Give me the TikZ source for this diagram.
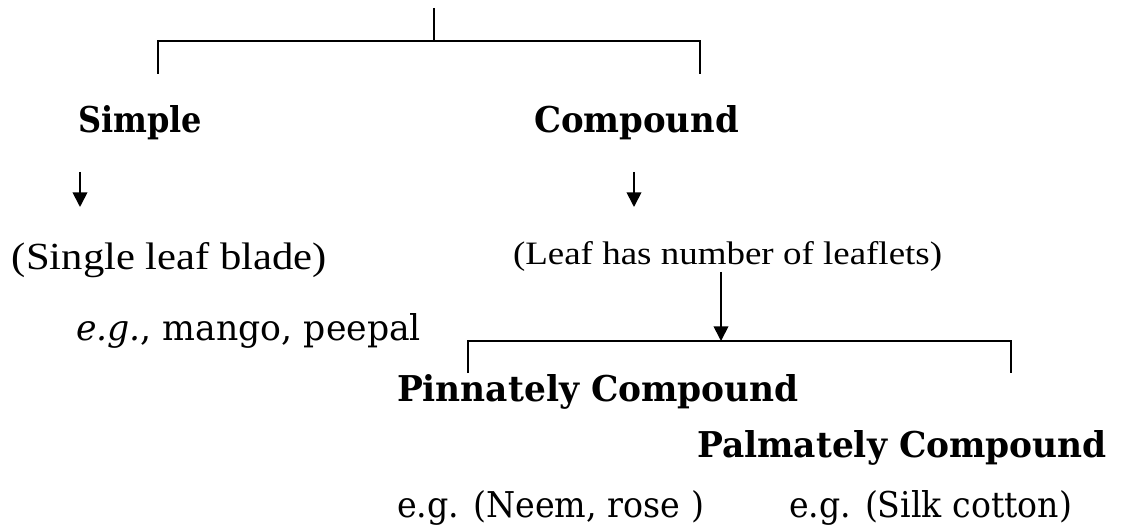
\documentclass[tikz,border=0pt]{standalone}
\usepackage{fontspec}
\usepackage{graphicx}
\setmainfont{DejaVu Serif}
\newfontfamily\timesf{Liberation Serif}
\usetikzlibrary{arrows.meta}
% #1 width (px), #2 height above baseline (px), #3 text; 1px = 0.75pt
\newcommand\fitto[3]{\resizebox{#1\dimexpr0.75pt\relax}{#2\dimexpr0.75pt\relax}{#3}}
\begin{document}
\begin{tikzpicture}[x=0.75pt,y=-0.75pt,
  txt/.style={anchor=base west,inner sep=0pt,outer sep=0pt},
  ln/.style={line width=1.1pt,black},
  arr/.style={line width=1.3pt,black,-{Triangle[length=11pt,width=11pt]}}]
\useasboundingbox (0,0) rectangle (1121,527);
% top bracket
\coordinate (root) at (434,8);
\coordinate (j1) at (434,41);
\coordinate (tl) at (158,41);
\coordinate (tr) at (700,41);
\coordinate (tld) at (158,74);
\coordinate (trd) at (700,74);
\draw[ln] (root) -- (j1);
\draw[ln] (tld) -- (tl) -- (tr) -- (trd);
% level 1
\node[txt] (simple) at (78,133) {\fitto{124}{27}{\bfseries Simple}};
\node[txt] (compound) at (534,133) {\fitto{205}{27}{\bfseries Compound}};
\coordinate (as1) at (80,172);
\coordinate (ae1) at (80,207);
\coordinate (as2) at (634,172);
\coordinate (ae2) at (634,207);
\draw[arr] (as1) -- (ae1);
\draw[arr] (as2) -- (ae2);
% level 2
\node[txt] (single) at (12,270) {\fitto{315}{27}{\timesf (Single leaf blade)}};
\node[txt] (leaflets) at (513,265) {\fitto{429}{23}{\timesf (Leaf has number of leaflets)}};
\node[txt] (mango) at (76,340) {\fitto{345}{27}{\textit{e.g.}, mango, peepal}};
% lower bracket
\coordinate (as3) at (721,272);
\coordinate (j2) at (721,341);
\coordinate (bl) at (468,341);
\coordinate (br) at (1011,341);
\coordinate (bld) at (468,373);
\coordinate (brd) at (1011,373);
\draw[ln] (bld) -- (bl) -- (br) -- (brd);
\draw[arr] (as3) -- (j2);
% level 3
\node[txt] (pinn) at (397,402) {\fitto{402}{27}{\bfseries Pinnately Compound}};
\node[txt] (palm) at (697,457) {\fitto{410}{27}{\bfseries Palmately Compound}};
\node[txt] (neem) at (397,517) {\fitto{307}{27}{e.g. (Neem, rose )}};
\node[txt] (silk) at (789,517) {\fitto{283}{27}{e.g. (Silk cotton)}};
\end{tikzpicture}
\end{document}
